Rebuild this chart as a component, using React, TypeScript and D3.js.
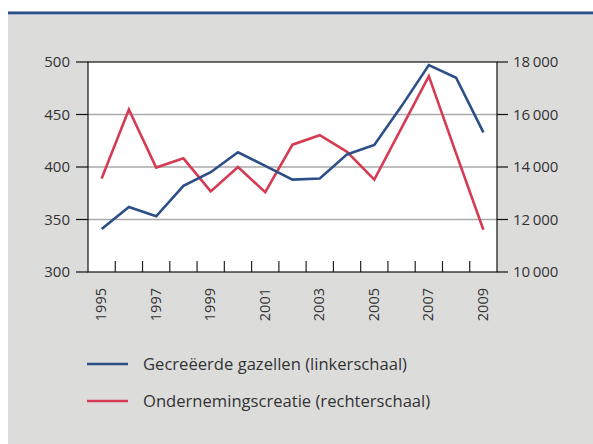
import React from "react";
import * as d3 from "d3";

const years = [1995, 1996, 1997, 1998, 1999, 2000, 2001, 2002, 2003, 2004, 2005, 2006, 2007, 2008, 2009];
const gazellen = [341, 362, 353, 382, 395, 414, 401, 388, 389, 412, 421, 458, 497, 485, 433];
const creatie = [13560, 16190, 13980, 14330, 13070, 14000, 13040, 14850, 15210, 14580, 13520, 15490, 17460, 14520, 11610];
const leftTicks = [300, 350, 400, 450, 500];
const rightTicks = [10000, 12000, 14000, 16000, 18000];
const yearLabels = [1995, 1997, 1999, 2001, 2003, 2005, 2007, 2009];
const legendLabels = ["Gecreëerde gazellen (linkerschaal)", "Ondernemingscreatie (rechterschaal)"];

const W = 593, H = 444;
const L = 88, R = 497, T = 62, B = 272;
const BLUE = "#2c4f87";
const RED = "#d53b52";
const FONT = "'Open Sans', sans-serif";
const TXT = "#333";

export default function App() {
  const x = d3.scaleBand<number>().domain(years).range([L, R]).padding(0);
  const yl = d3.scaleLinear().domain([300, 500]).range([B, T]);
  const yr = d3.scaleLinear().domain([10000, 18000]).range([B, T]);
  const cx = (yr_: number) => (x(yr_) as number) + x.bandwidth() / 2;
  const lineL = d3.line<number>().x((_, i) => cx(years[i])).y((d) => yl(d));
  const lineR = d3.line<number>().x((_, i) => cx(years[i])).y((d) => yr(d));
  const fmt = (v: number) => d3.format(",")(v).replace(",", "\u2009");
  const boundaries = years.slice(1).map((y) => x(y) as number);

  return (
    <svg width={W} height={H} style={{ position: "absolute", left: 0, top: 0 }} fontFamily={FONT}>
      <rect x={8} y={13} width={W - 8} height={H - 13} fill="#dcdcdb" />
      <rect x={8} y={11.5} width={W - 8} height={2.5} fill="#2c4f87" />
      <rect x={8} y={14} width={W - 8} height={1} fill="#9fb2cf" />
      <rect x={L} y={T} width={R - L} height={B - T} fill="#fff" />
      {leftTicks.slice(1, -1).map((t) => (
        <line key={t} x1={L} x2={R} y1={yl(t)} y2={yl(t)} stroke="#aaa" strokeWidth={1.5} />
      ))}
      {boundaries.map((bx, i) => (
        <line key={i} x1={bx} x2={bx} y1={B} y2={B - 11} stroke="#222" strokeWidth={1.2} />
      ))}
      <path d={lineR(creatie) || ""} fill="none" stroke={RED} strokeWidth={2.6} strokeLinejoin="miter" />
      <path d={lineL(gazellen) || ""} fill="none" stroke={BLUE} strokeWidth={2.6} strokeLinejoin="miter" />
      <rect x={L} y={T} width={R - L} height={B - T} fill="none" stroke="#111" strokeWidth={1.2} />
      {leftTicks.map((t) => (
        <g key={t}>
          <line x1={76} x2={L} y1={yl(t)} y2={yl(t)} stroke="#111" strokeWidth={1.2} />
          <text x={70} y={yl(t)} dy="0.35em" textAnchor="end" fontSize={15} fill={TXT}>{t}</text>
        </g>
      ))}
      {rightTicks.map((t) => (
        <g key={t}>
          <line x1={R} x2={508} y1={yr(t)} y2={yr(t)} stroke="#111" strokeWidth={1.2} />
          <text x={513} y={yr(t)} dy="0.35em" textAnchor="start" fontSize={15} fill={TXT}>{fmt(t)}</text>
        </g>
      ))}
      {yearLabels.map((y) => (
        <text key={y} transform={`translate(${cx(y) + 4.5},${288}) rotate(-90)`} textAnchor="end" fontSize={14.5} fill={TXT}>{y}</text>
      ))}
      {legendLabels.map((lab, i) => {
        const ly = 364 + i * 37;
        return (
          <g key={lab}>
            <line x1={87} x2={128} y1={ly} y2={ly} stroke={i === 0 ? BLUE : RED} strokeWidth={2.6} />
            <text x={143} y={ly} dy="0.35em" fontSize={16.6} fill={TXT}>{lab}</text>
          </g>
        );
      })}
    </svg>
  );
}
